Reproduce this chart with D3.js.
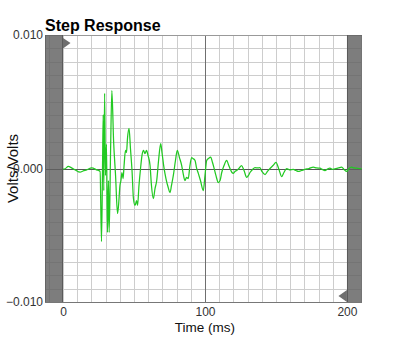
<!DOCTYPE html>
<html>
<head>
<meta charset="utf-8">
<script src="https://cdn.jsdelivr.net/npm/d3@7/dist/d3.min.js"></script>
<style>
  html, body { margin: 0; padding: 0; background: #fff; }
  svg { display: block; font-family: "Liberation Sans", Arial, Helvetica, sans-serif; }
</style>
</head>
<body>
<svg id="chart" width="395" height="342"></svg>
<script>
// Step response of the system, time in milliseconds, amplitude in volts/volts
const timeMs = [
  0.0, 1.4, 3.7, 6.0, 8.5, 12.0, 14.1, 16.7, 20.2, 23.7, 26.1,
  27.1, 27.8, 28.3, 28.7, 29.3, 29.9, 30.6, 31.3, 32.0, 32.5,
  33.5, 34.4, 35.6, 37.0, 38.4, 39.1, 40.1, 40.8, 41.5, 42.3,
  43.0, 44.0, 44.7, 45.4, 46.5, 47.5, 48.6, 49.6, 50.7, 51.8,
  52.5, 53.5, 54.6, 55.6, 56.7, 57.7, 58.8, 59.9, 61.3, 62.3,
  63.6, 64.8, 66.0, 67.3, 68.8, 69.7, 71.1, 72.5, 73.9, 75.4,
  76.4, 77.7, 79.2, 80.5, 82.0, 83.6, 84.5, 85.9, 87.0, 88.2,
  89.4, 90.6, 91.5, 93.0, 94.0, 95.3, 96.8, 98.8, 100.0, 101.2,
  102.5, 104.0, 105.3, 106.3, 107.7, 109.4, 110.6, 111.8, 113.4, 115.3,
  116.5, 117.6, 119.0, 119.9, 121.1, 122.3, 123.9, 125.8, 127.5, 129.4,
  130.6, 131.7, 133.5, 135.2, 137.5, 138.7, 140.1, 142.3, 144.0, 145.8,
  147.9, 150.0, 152.1, 154.0, 155.6, 157.5, 159.9, 162.2, 164.1, 165.7,
  168.0, 170.4, 173.2, 176.3, 178.5, 181.0, 182.7, 184.5, 186.3, 188.0,
  189.8, 191.5, 194.0, 196.3, 197.9, 199.8, 201.4, 203.3, 204.9, 206.8,
  208.5, 210.4
];
const voltage = [
  -0.00004, -0.00002, 0.00015, 0.00005, -0.00010, -0.00028, -0.00019, -0.00010, 0.00005, -0.00010, -0.00022,
  -0.00547, -0.00015, 0.00404, -0.00165, 0.00562, -0.00052, 0.00180, -0.00479, -0.00090, -0.00479,
  0.00135, 0.00584, 0.00210, -0.00052, -0.00337, -0.00277, -0.00127, -0.00090, -0.00030, -0.00075,
  0.00022, 0.00135, 0.00120, 0.00225, 0.00300, 0.00150, -0.00015, -0.00225, -0.00277, -0.00240,
  -0.00277, -0.00127, 0.00000, 0.00097, 0.00135, 0.00112, 0.00135, 0.00097, 0.00022, -0.00127,
  -0.00225, -0.00150, -0.00090, 0.00060, 0.00187, 0.00120, 0.00007, -0.00075, -0.00135, -0.00180,
  -0.00127, -0.00052, 0.00060, 0.00135, 0.00082, 0.00022, -0.00030, -0.00090, -0.00067, -0.00075,
  0.00022, 0.00082, 0.00075, 0.00060, 0.00007, -0.00037, -0.00090, -0.00165, -0.00052, 0.00060,
  0.00075, 0.00085, 0.00045, 0.00007, -0.00052, -0.00105, -0.00090, -0.00030, 0.00022, 0.00060,
  0.00030, 0.00000, -0.00030, -0.00037, -0.00022, -0.00015, 0.00000, 0.00022, -0.00015, -0.00067,
  -0.00052, -0.00030, -0.00007, 0.00007, 0.00004, 0.00007, -0.00022, -0.00045, -0.00022, 0.00000,
  0.00022, 0.00045, -0.00007, -0.00060, -0.00030, 0.00000, -0.00011, -0.00007, -0.00015, -0.00022,
  -0.00015, -0.00007, 0.00000, 0.00010, 0.00004, 0.00002, -0.00007, -0.00015, -0.00004, 0.00002,
  -0.00007, -0.00002, 0.00004, 0.00010, -0.00007, -0.00022, 0.00000, 0.00010, 0.00004, 0.00002,
  0.00000, -0.00002
];
const xTicks = [0, 100, 200];
const yTicks = [-0.010, 0.000, 0.010];
const timeRange = [-12.7, 210.6];
const voltRange = [-0.010, 0.010];
const windowEdges = [0, 200];   // valid-window markers (ms)

const svg = d3.select("#chart");
const plot = { left: 45, right: 362, top: 35, bottom: 302 };

const x = d3.scaleLinear().domain(timeRange).range([plot.left, plot.right]);
const y = d3.scaleLinear().domain(voltRange).range([plot.bottom, plot.top]);

// Grid: 10 ms by 1 mV
const gridX = d3.range(-10, 211, 10);
const gridY = d3.range(-10, 11, 1).map(d => d / 1000);
const px = v => Math.round(v) + 0.5;

const g = svg.append("g");
g.append("rect")
  .attr("x", plot.left).attr("y", plot.top)
  .attr("width", plot.right - plot.left).attr("height", plot.bottom - plot.top)
  .attr("fill", "#fff");

g.selectAll("line.gx").data(gridX.filter(d => d !== 100)).join("line")
  .attr("class", "gx")
  .attr("x1", d => px(x(d))).attr("x2", d => px(x(d)))
  .attr("y1", plot.top).attr("y2", plot.bottom)
  .attr("stroke", "#cdcdcd");

g.selectAll("line.gy").data(gridY.filter(d => Math.abs(d) > 1e-9)).join("line")
  .attr("class", "gy")
  .attr("x1", plot.left).attr("x2", plot.right)
  .attr("y1", d => px(y(d))).attr("y2", d => px(y(d)))
  .attr("stroke", "#cdcdcd");

// Emphasised reference lines: 100 ms and zero volts
g.append("line")
  .attr("x1", px(x(100))).attr("x2", px(x(100)))
  .attr("y1", plot.top).attr("y2", plot.bottom)
  .attr("stroke", "#6f6f6f");
g.append("line")
  .attr("x1", plot.left).attr("x2", plot.right)
  .attr("y1", px(y(0))).attr("y2", px(y(0)))
  .attr("stroke", "#555");

// Plot frame
g.append("line")
  .attr("x1", plot.left).attr("x2", plot.right)
  .attr("y1", plot.top + 0.5).attr("y2", plot.top + 0.5)
  .attr("stroke", "#999");
g.append("line")
  .attr("x1", plot.left).attr("x2", plot.right)
  .attr("y1", plot.bottom + 0.5).attr("y2", plot.bottom + 0.5)
  .attr("stroke", "#777");
g.append("line")
  .attr("x1", plot.left + 0.5).attr("x2", plot.left + 0.5)
  .attr("y1", plot.top).attr("y2", plot.bottom)
  .attr("stroke", "#777");

// Shaded regions outside the window
g.append("rect")
  .attr("x", x(timeRange[0])).attr("y", plot.top)
  .attr("width", x(windowEdges[0]) - x(timeRange[0]))
  .attr("height", plot.bottom - plot.top)
  .attr("fill", "rgba(96,96,96,0.82)");
g.append("rect")
  .attr("x", x(windowEdges[1])).attr("y", plot.top)
  .attr("width", x(timeRange[1]) - x(windowEdges[1]))
  .attr("height", plot.bottom - plot.top)
  .attr("fill", "rgba(96,96,96,0.82)");
g.append("line")
  .attr("x1", Math.round(x(windowEdges[0])) - 0.5).attr("x2", Math.round(x(windowEdges[0])) - 0.5)
  .attr("y1", plot.top).attr("y2", plot.bottom)
  .attr("stroke", "#5a5a5a");
g.append("line")
  .attr("x1", Math.round(x(windowEdges[1])) + 0.5).attr("x2", Math.round(x(windowEdges[1])) + 0.5)
  .attr("y1", plot.top).attr("y2", plot.bottom)
  .attr("stroke", "#5a5a5a");

// Response trace (monotone curve keeps the peaks where the samples are)
const points = timeMs.map((t, i) => [t, voltage[i]]);
const line = d3.line().x(d => x(d[0])).y(d => y(d[1])).curve(d3.curveMonotoneX);
g.append("path")
  .datum(points)
  .attr("d", line)
  .attr("fill", "none")
  .attr("stroke", "#22c922")
  .attr("stroke-width", 1.25)
  .attr("stroke-linejoin", "round");

// Window handles
const x0 = x(windowEdges[0]), x1 = x(windowEdges[1]);
g.append("path")
  .attr("d", `M${x0},${plot.top + 3}L${x0 + 7.5},${plot.top + 8}L${x0},${plot.top + 13.5}Z`)
  .attr("fill", "#6e6e6e");
g.append("path")
  .attr("d", `M${x1},${plot.bottom - 12}L${x1 - 8.5},${plot.bottom - 6}L${x1},${plot.bottom}Z`)
  .attr("fill", "#6e6e6e");

// Axes labels
const xAxis = d3.axisBottom(x).tickValues(xTicks).tickSize(0).tickPadding(5)
  .tickFormat(d3.format("d"));
svg.append("g")
  .attr("transform", `translate(0,${plot.bottom})`)
  .call(xAxis)
  .call(a => a.select(".domain").remove())
  .call(a => a.selectAll("text").attr("font-size", 12)
    .attr("font-family", "'Liberation Sans', Arial, sans-serif").attr("fill", "#333"));

const yAxis = d3.axisLeft(y).tickValues(yTicks).tickSize(0).tickPadding(2)
  .tickFormat(d3.format(".3f"));
svg.append("g")
  .attr("transform", `translate(${plot.left},0)`)
  .call(yAxis)
  .call(a => a.select(".domain").remove())
  .call(a => a.selectAll("text").attr("font-size", 12)
    .attr("font-family", "'Liberation Sans', Arial, sans-serif").attr("fill", "#333"));

svg.append("text")
  .attr("x", (x(0) + x(200)) / 2).attr("y", 332)
  .attr("text-anchor", "middle")
  .attr("font-size", 13.5).attr("fill", "#111")
  .text("Time (ms)");

svg.append("text")
  .attr("transform", `translate(18,${y(0)}) rotate(-90)`)
  .attr("text-anchor", "middle")
  .attr("font-size", 15).attr("fill", "#111")
  .text("Volts/Volts");

svg.append("text")
  .attr("x", plot.left).attr("y", 31)
  .attr("font-size", 16).attr("font-weight", "bold").attr("fill", "#000")
  .text("Step Response");
</script>
</body>
</html>
